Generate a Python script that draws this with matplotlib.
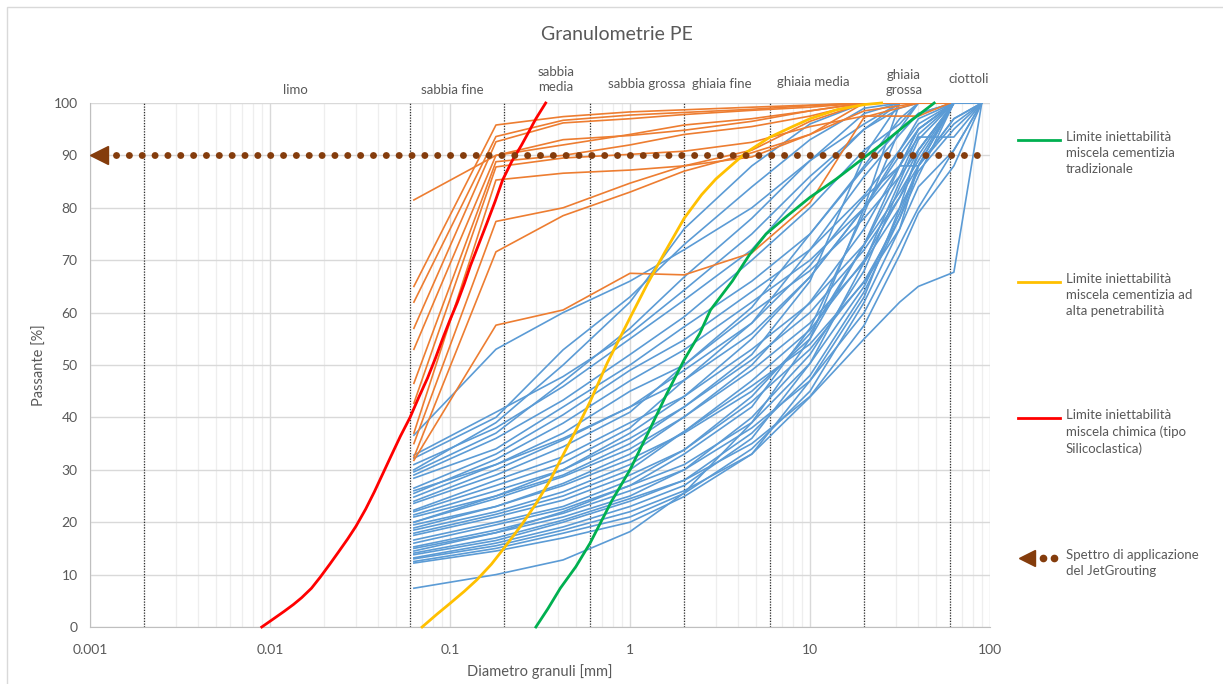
import matplotlib
matplotlib.use("Agg")
import matplotlib.pyplot as plt
from matplotlib.lines import Line2D
from matplotlib.patches import Rectangle
from matplotlib.ticker import LogLocator, NullFormatter

plt.rcParams['font.family'] = ['Lato', 'DejaVu Sans']

TXT = '#595959'
BLUE = '#5B9BD5'
ORANGE = '#ED7D31'
GREEN = '#00B050'
YELLOW = '#FFC000'
RED = '#FF0000'
BROWN = '#843C0C'

# sieve sizes [mm]
B_SIEVES = [0.063, 0.18, 0.425, 1, 2, 4.75, 10, 20, 31.5, 40, 63, 90]
O_SIEVES = [0.063, 0.18, 0.425, 1, 2, 4.75, 10, 20, 40, 60]

# passing [%] - gravelly samples (blue)
b01 = [36.6, 53.0, 60.0, 66.0, 72.0, 80.0, 89.0, 96.0, 100, 100, 100, 100]
b02 = [32.8, 41.0, 47.8, 56.0, 64.3, 75.0, 86.0, 95.0, 99.0, 100, 100, 100]
b03 = [32.2, 40.0, 52.9, 63.0, 73.0, 84.0, 93.0, 99.0, 100, 100, 100, 100]
b04 = [31.0, 38.0, 45.9, 55.0, 62.4, 72.0, 84.7, 95.0, 100, 100, 100, 100]
b05 = [29.6, 37.0, 46.8, 57.0, 66.8, 78.0, 89.0, 98.0, 100, 100, 100, 100]
b06 = [29.0, 36.0, 43.3, 52.0, 59.2, 70.0, 80.0, 91.0, 96.0, 100, 100, 100]
b07 = [28.4, 34.0, 42.0, 50.0, 57.3, 66.0, 75.0, 87.6, 95.0, 98.0, 100, 100]
b08 = [26.5, 33.0, 40.5, 49.0, 54.8, 64.0, 72.0, 82.4, 91.0, 96.0, 100, 100]
b09 = [25.5, 32.0, 38.9, 47.0, 52.9, 62.0, 70.0, 80.0, 88.0, 93.5, 93.5, 100]
b10 = [24.8, 31.0, 37.0, 45.0, 50.0, 60.0, 68.0, 78.0, 86.0, 91.0, 100, 100]
b11 = [24.0, 30.0, 35.7, 42.0, 47.1, 56.0, 66.8, 80.0, 90.0, 95.0, 100, 100]
b12 = [23.6, 29.0, 34.4, 41.0, 50.0, 61.0, 75.0, 88.0, 97.0, 100, 100, 100]
b13 = [22.3, 28.0, 32.5, 39.0, 44.0, 53.0, 61.8, 73.0, 83.0, 89.0, 100, 100]
b14 = [22.0, 27.0, 31.3, 38.0, 47.1, 58.0, 72.0, 86.0, 94.0, 98.0, 100, 100]
b15 = [21.4, 26.0, 30.0, 36.0, 42.0, 51.0, 60.0, 72.0, 82.0, 88.0, 97.0, 100]
b16 = [20.0, 25.0, 30.0, 37.0, 44.0, 55.0, 66.8, 80.0, 91.0, 97.0, 100, 100]
b17 = [20.0, 24.5, 28.7, 34.0, 40.1, 49.0, 58.0, 69.6, 80.0, 87.0, 95.0, 100]
b18 = [18.9, 23.0, 27.4, 33.0, 40.1, 50.0, 62.0, 76.0, 88.0, 95.0, 100, 100]
b19 = [18.5, 22.0, 25.8, 31.0, 37.3, 47.0, 56.7, 70.0, 82.0, 90.0, 100, 100]
b20 = [17.9, 21.5, 25.0, 30.0, 37.3, 46.0, 54.0, 65.8, 76.0, 84.0, 91.0, 100]
b21 = [17.5, 21.0, 24.2, 29.0, 33.8, 43.0, 53.0, 66.0, 78.0, 88.0, 100, 100]
b22 = [16.6, 20.0, 23.0, 28.0, 33.8, 44.0, 56.0, 73.0, 86.0, 94.0, 100, 100]
b23 = [16.0, 19.5, 22.5, 27.0, 31.0, 39.0, 50.3, 65.0, 79.0, 88.0, 97.0, 100]
b24 = [15.3, 18.5, 21.7, 26.0, 30.0, 40.0, 52.0, 68.0, 84.0, 91.0, 100, 100]
b25 = [15.0, 18.0, 21.0, 25.0, 30.0, 38.0, 47.0, 60.0, 73.0, 80.0, 91.0, 100]
b26 = [14.1, 17.0, 20.4, 24.5, 28.0, 37.0, 48.0, 64.0, 78.0, 86.0, 100, 100]
b27 = [13.8, 16.5, 20.0, 24.0, 28.0, 35.0, 44.0, 57.6, 71.0, 79.0, 88.0, 100]
b28 = [13.2, 16.0, 19.1, 23.0, 27.0, 36.0, 50.3, 69.6, 85.0, 93.0, 100, 100]
b29 = [13.0, 15.5, 18.5, 22.0, 26.0, 33.0, 43.9, 55.0, 62.0, 65.0, 67.7, 100]
b30 = [12.5, 15.0, 17.9, 21.0, 25.5, 34.0, 45.0, 62.0, 76.0, 88.0, 100, 100]
b31 = [12.2, 14.5, 17.0, 20.0, 24.9, 33.0, 47.0, 63.0, 80.0, 91.0, 100, 100]
b32 = [7.4, 10.0, 12.8, 18.2, 25.6, 39.0, 55.0, 73.0, 88.0, 95.0, 100, 100]
b33 = [30.0, 39.0, 50.0, 62.0, 76.0, 88.0, 96.0, 100, 100, 100, 100, 100]
b34 = [19.5, 23.0, 27.0, 32.0, 37.0, 45.0, 55.0, 80.0, 100, 100, 100, 100]
b35 = [21.0, 25.0, 29.0, 35.0, 42.0, 52.0, 66.0, 90.0, 100, 100, 100, 100]
b36 = [14.5, 18.0, 22.0, 27.0, 33.0, 42.0, 57.0, 79.0, 95.0, 100, 100, 100]
b37 = [26.0, 31.0, 36.0, 42.0, 49.0, 58.0, 69.0, 82.0, 88.0, 88.0, 96.0, 100]
BLUE_CURVES = [b01, b02, b03, b04, b05, b06, b07, b08, b09, b10, b11, b12,
               b13, b14, b15, b16, b17, b18, b19, b20, b21, b22, b23, b24,
               b25, b26, b27, b28, b29, b30, b31, b32, b33, b34, b35, b36,
               b37]

# passing [%] - sandy samples (orange)
o01 = [81.5, 90.0, 92.0, 94.0, 95.8, 97.0, 98.5, 100, 100, 100]
o02 = [65.0, 95.8, 97.4, 98.3, 98.7, 99.2, 99.6, 100, 100, 100]
o03 = [62.0, 93.6, 96.7, 97.7, 98.2, 98.8, 99.5, 100, 100, 100]
o04 = [57.0, 92.6, 96.2, 97.0, 97.8, 98.6, 99.2, 100, 100, 100]
o05 = [53.0, 90.0, 93.0, 93.8, 94.8, 96.5, 98.5, 100, 100, 100]
o06 = [46.5, 88.8, 90.0, 92.0, 94.0, 95.5, 97.5, 100, 100, 100]
o07 = [42.7, 87.8, 89.5, 90.2, 90.8, 92.5, 95.5, 97.5, 97.5, 100]
o08 = [37.0, 85.3, 86.6, 87.2, 88.0, 89.7, 94.0, 100, 100, 100]
o09 = [35.0, 77.4, 80.0, 84.7, 88.0, 91.0, 96.5, 100, 100, 100]
o10 = [32.4, 71.6, 78.5, 83.0, 87.0, 90.5, 94.0, 98.5, 100, 100]
o11 = [31.8, 57.6, 60.5, 67.5, 67.2, 71.4, 81.0, 97.3, 100, 100]
ORANGE_CURVES = [o01, o02, o03, o04, o05, o06, o07, o08, o09, o10, o11]

# injectability limits
RED_X = [0.009, 0.0105, 0.012, 0.0135, 0.015, 0.017, 0.019, 0.0215, 0.024,
         0.027, 0.03, 0.034, 0.038, 0.042, 0.047, 0.053, 0.06, 0.067, 0.075,
         0.083, 0.091, 0.1, 0.11, 0.12, 0.13, 0.145, 0.16, 0.178, 0.196,
         0.22, 0.25, 0.275, 0.3, 0.34]
RED_Y = [0, 1.6, 3.0, 4.3, 5.6, 7.4, 9.5, 12.0, 14.3, 16.8, 19.2, 22.5, 25.8,
         29.0, 32.6, 36.4, 40.0, 43.8, 47.5, 51.3, 55.0, 58.6, 62.0, 65.5,
         69.0, 73.2, 77.0, 81.2, 85.3, 88.8, 92.0, 94.6, 97.0, 100]
YEL_X = [0.07, 0.085, 0.1, 0.12, 0.141, 0.17, 0.196, 0.25, 0.3, 0.36, 0.42,
         0.5, 0.6, 0.75, 1.0, 1.25, 1.56, 2.0, 2.5, 3.0, 4.4, 6, 8, 10, 14,
         20, 25]
YEL_Y = [0, 2.5, 4.5, 6.8, 9, 12, 14.7, 19.5, 23.5, 28, 32.5, 37.5, 43, 50.5,
         59, 65.5, 71.5, 78, 82.5, 85.5, 90.5, 93.5, 95.5, 97, 98.7, 99.7, 100]
GRN_X = [0.3, 0.35, 0.41, 0.5, 0.6, 0.79, 1.0, 1.3, 1.6, 2.0, 2.44, 2.8, 3.7,
         4.6, 5.7, 7.5, 10, 14, 19, 27, 36, 49]
GRN_Y = [0, 3.5, 7.4, 11.5, 16, 24, 30, 38, 44.5, 51, 56, 60.5, 66, 71, 75,
         78.5, 82, 85.5, 89, 93, 96.5, 100]

# JetGrouting spectrum
JET_X = [0.0014, 95]
JET_Y = 90
JET_ARROW_X = 0.00112

# soil class boundaries and labels
BOUNDS = [0.002, 0.06, 0.2, 0.6, 2, 6, 20, 60]
ZONE_NAMES = ['limo', 'sabbia fine', 'sabbia\nmedia', 'sabbia grossa',
              'ghiaia fine', 'ghiaia media', 'ghiaia\ngrossa', 'ciottoli']
ZONE_X = [0.0138, 0.1026, 0.388, 1.24, 3.24, 10.4, 33.3, 76.4]
ZONE_Y = [102.5, 102.5, 104.5, 103.6, 103.6, 104.0, 104.0, 104.6]

XTICKS = [0.001, 0.01, 0.1, 1, 10, 100]
XTICK_LABELS = ['0.001', '0.01', '0.1', '1', '10', '100']
YTICKS = list(range(0, 101, 10))

W, H = 1223, 684
fig = plt.figure(figsize=(W / 100, H / 100), dpi=100)
ax = fig.add_axes([90 / W, 57 / H, 900 / W, 524 / H])

ax.set_xscale('log')
ax.set_xlim(0.001, 100)
ax.set_ylim(0, 100)
ax.set_yticks(YTICKS)
ax.set_xticks(XTICKS)
ax.set_xticklabels(XTICK_LABELS)
ax.xaxis.set_minor_locator(LogLocator(base=10, subs=range(2, 10)))
ax.xaxis.set_minor_formatter(NullFormatter())
ax.tick_params(which='both', length=0, labelsize=10, labelcolor=TXT)
ax.tick_params(axis='x', pad=12)
ax.tick_params(axis='y', pad=9)

ax.grid(axis='y', color='#d9d9d9', lw=1.0, zorder=0)
ax.grid(axis='x', which='major', color='#d9d9d9', lw=1.0, zorder=0)
ax.grid(axis='x', which='minor', color='#eeeeee', lw=0.9, zorder=0)
ax.set_axisbelow(True)
for s in ['top', 'right']:
    ax.spines[s].set_visible(False)
for s in ['left', 'bottom']:
    ax.spines[s].set_color('#bfbfbf')

for b in BOUNDS:
    ax.axvline(b, color='#303030', lw=0.9, linestyle=(0, (1, 1.2)), zorder=1)

for c in BLUE_CURVES:
    ax.plot(B_SIEVES, c, color=BLUE, lw=1.2, zorder=2)
for c in ORANGE_CURVES:
    ax.plot(O_SIEVES, c, color=ORANGE, lw=1.2, zorder=2.2)

ax.plot(YEL_X, YEL_Y, color=YELLOW, lw=2.0, zorder=3, clip_on=False)
ax.plot(GRN_X, GRN_Y, color=GREEN, lw=2.0, zorder=3, clip_on=False)
ax.plot(RED_X, RED_Y, color=RED, lw=2.0, zorder=3, clip_on=False)

ax.plot(JET_X, [JET_Y, JET_Y], color=BROWN, lw=5,
        linestyle=(0, (0.01, 1.84)), dash_capstyle='round', zorder=4)
ax.plot([JET_ARROW_X], [JET_Y], marker='<', ms=13, color=BROWN,
        clip_on=False, zorder=4)

for name, zx, zy in zip(ZONE_NAMES, ZONE_X, ZONE_Y):
    ax.text(zx, zy, name, ha='center', va='center', fontsize=9.5,
            color=TXT, linespacing=1.3)

ax.set_xlabel('Diametro granuli [mm]', fontsize=10.5, color=TXT, labelpad=6)
ax.set_ylabel('Passante [%]', fontsize=10.5, color=TXT, labelpad=5)
fig.text(617 / W, 1 - 35 / H, 'Granulometrie PE', ha='center', va='center',
         fontsize=14, color=TXT)

# legend drawn by hand on the right
def fy(py):
    return 1 - py / H

legend_items = [
    (GREEN, 140, 'Limite iniettabilità\nmiscela cementizia\ntradizionale'),
    (YELLOW, 282, 'Limite iniettabilità\nmiscela cementizia ad\nalta penetrabilità'),
    (RED, 418, 'Limite iniettabilità\nmiscela chimica (tipo\nSilicoclastica)'),
]
for col, py, label in legend_items:
    fig.add_artist(Line2D([1018 / W, 1060 / W], [fy(py), fy(py)], color=col,
                          lw=2.0, transform=fig.transFigure))
    fig.text(1066 / W, fy(py - 9), label, ha='left', va='top', fontsize=9.5,
             color=TXT, linespacing=1.42)

fig.add_artist(Line2D([1027 / W], [fy(558)], marker='<', ms=12, color=BROWN,
                      transform=fig.transFigure))
fig.add_artist(Line2D([1043 / W, 1054 / W], [fy(558), fy(558)], marker='o',
                      ms=4.5, lw=0, color=BROWN, transform=fig.transFigure))
fig.text(1066 / W, fy(549), 'Spettro di applicazione\ndel JetGrouting',
         ha='left', va='top', fontsize=9.5, color=TXT, linespacing=1.42)

# chart area border
fig.add_artist(Rectangle((7 / W, -0.1), 2, 1 - 7 / H + 0.1, fill=False,
                         edgecolor='#d9d9d9', lw=1.0, transform=fig.transFigure))

fig.savefig('out.png', dpi=100)
